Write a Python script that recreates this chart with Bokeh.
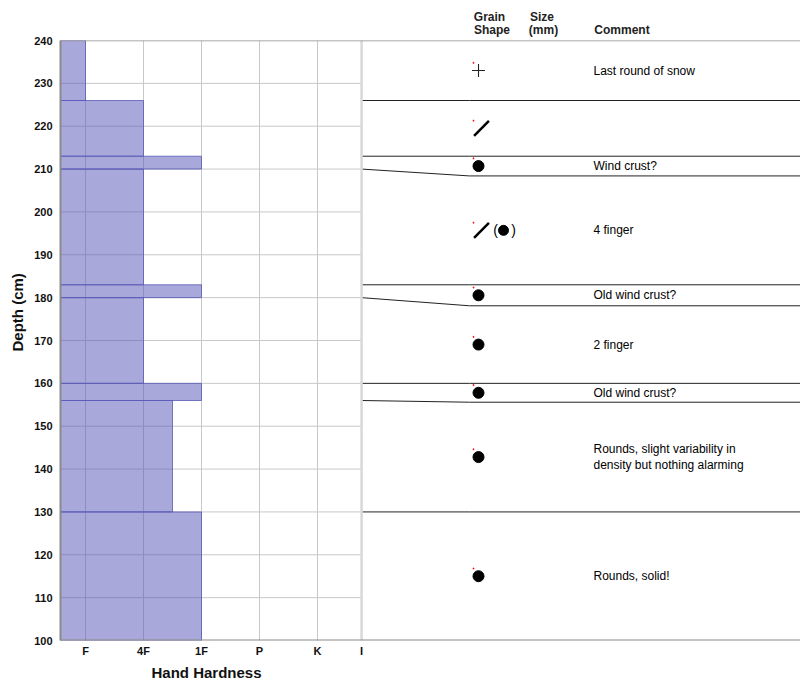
import math

from bokeh.plotting import figure
from bokeh.models import ColumnDataSource, Range1d, FixedTicker, Span, LinearAxis, Title
from bokeh.core.properties import value
from bokeh.embed import file_html
from bokeh.resources import INLINE

# snow layers, top to bottom (cm)
layer_top = [240, 226, 213, 210, 183, 180, 160, 156, 130]
layer_bottom = [226, 213, 210, 183, 180, 160, 156, 130, 100]
# hand hardness index: F=1, 4F=2, 1F=3, P=4, K=5
hardness = [1, 2, 3, 2, 3, 2, 3, 2.5, 3]
# where each layer bottom is drawn in the description column (thin layers widened)
shown_bottom = [226, 213, 208.4, 183, 178.1, 160, 155.6, 130, 100]
grain_shape = ["+", "/", "●", "/(●)", "●", "●", "●", "●", "●"]
comments = [
    "Last round of snow",
    "",
    "Wind crust?",
    "4 finger",
    "Old wind crust?",
    "2 finger",
    "Old wind crust?",
    "Rounds, slight variability in\ndensity but nothing alarming",
    "Rounds, solid!",
]

hardness_labels = ["F", "4F", "1F", "P", "K", "I"]
hardness_ticks = [1, 2, 3, 4, 5, 5.76]
depth_ticks = [100, 110, 120, 130, 140, 150, 160, 170, 180, 190, 200, 210, 220, 230, 240]

# column headers (two rows) and their centres in the description column
header_top = {429: "Grain", 481.5: "Size"}
header_bottom = {431.5: "Shape", 483: "(mm)", 561.5: "Comment"}

FONT_NAME = "Liberation Sans"
FONT = value(FONT_NAME)

# layout of the right-hand column, in pixels from the left of the frame
H_START = 1 - 25 / 58
H_END = H_START + 740 / 58
DIVIDER = 301
SLANT_END = 409
PANEL_END = 740
SYMBOL_X = 418
COMMENT_X = 533

p = figure(frame_width=740, frame_height=600,
           x_range=Range1d(H_START, H_END), y_range=Range1d(100, 240),
           output_backend="svg", toolbar_location=None,
           min_border_left=60, min_border_right=0, min_border_top=40, min_border_bottom=47)
p.extra_x_ranges = {"panel": Range1d(0, PANEL_END)}
p.outline_line_color = None
p.background_fill_color = "white"
xax = p.below[0]
yax = p.left[0]

# grid
p.xgrid.ticker = FixedTicker(ticks=hardness_ticks[:-1])
p.xgrid.grid_line_color = "#c8c8c8"
p.ygrid.grid_line_color = None
p.segment(x0=H_START, x1=hardness_ticks[-1], y0=depth_ticks[1:-1], y1=depth_ticks[1:-1],
          line_color="#c8c8c8", line_width=1)
p.add_layout(Span(location=hardness_ticks[-1], dimension="height",
                  line_color="#d8d8d8", line_width=2.5))

# hardness profile
bars = ColumnDataSource(dict(top=layer_top, bottom=layer_bottom, right=hardness))
p.quad(left=H_START, right="right", top="top", bottom="bottom", source=bars,
       fill_color="#5151b5", fill_alpha=0.5, line_color="#5a5ab8", line_alpha=0.8)

# frame lines
p.add_layout(Span(location=240, dimension="width", line_color="#8a8a8a", line_width=1.5))
p.add_layout(Span(location=100, dimension="width", line_color="#8a8a8a", line_width=2))

# layer boundaries in the description column
xs, ys = [], []
for real, shown in zip(layer_bottom[:-1], shown_bottom[:-1]):
    xs.append([DIVIDER, SLANT_END, PANEL_END])
    ys.append([real, shown, shown])
p.multi_line(xs=xs, ys=ys, x_range_name="panel", line_color="#222222", line_width=1)

shown_top = [240] + shown_bottom[:-1]
centers = [(t + b) / 2 for t, b in zip(shown_top, shown_bottom)]

# grain shape symbols
dots, crosses, slashes, bracketed = [], [], [], []
for shape, c in zip(grain_shape, centers):
    if shape.startswith("●"):
        dots.append(c)
    elif shape.startswith("+"):
        crosses.append(c)
    elif shape.startswith("/"):
        slashes.append(c)
    if "(●)" in shape:
        bracketed.append(c)

p.scatter(x=SYMBOL_X, y=dots, marker="circle", size=11, color="black", x_range_name="panel")
p.scatter(x=SYMBOL_X, y=crosses, marker="cross", size=13, line_color="#222222",
          line_width=1.1, x_range_name="panel")
p.scatter(x=SYMBOL_X + 3, y=slashes, marker="dash", size=21, angle=math.pi / 4,
          line_color="black", line_width=2.5, x_range_name="panel")
p.scatter(x=SYMBOL_X + 25, y=bracketed, marker="circle", size=10, color="black",
          x_range_name="panel")
p.text(x=SYMBOL_X + 17, y=bracketed, text=["("] * len(bracketed), x_range_name="panel",
       text_font=FONT, text_font_size="14px", text_align="center", text_baseline="middle")
p.text(x=SYMBOL_X + 35, y=bracketed, text=[")"] * len(bracketed), x_range_name="panel",
       text_font=FONT, text_font_size="14px", text_align="center", text_baseline="middle")
# empty grain size markers
p.scatter(x=SYMBOL_X - 5, y=[c + 1.8 for c in centers], marker="square", size=1,
          color="red", alpha=0.7, x_range_name="panel")

# comments
p.text(x=COMMENT_X, y=centers, text=comments, x_range_name="panel",
       text_font=FONT, text_font_size="12px", text_color="black",
       text_align="left", text_baseline="middle", text_line_height=1.1)


def style_axis(ax, size="11px"):
    ax.major_tick_out = 0
    ax.major_tick_in = 0
    ax.minor_tick_line_color = None
    ax.major_label_text_font = FONT_NAME
    ax.major_label_text_font_size = size
    ax.major_label_text_font_style = "bold"
    ax.major_label_text_color = "#111111"


# column headers as label-only axes above the description column
for row, standoff in [(header_bottom, 4), (header_top, -4)]:
    head = LinearAxis(x_range_name="panel", ticker=FixedTicker(ticks=list(row)),
                      major_label_overrides=row, axis_line_color=None,
                      major_label_standoff=standoff)
    style_axis(head, "12px")
    head.major_label_text_color = "#222222"
    p.add_layout(head, "above")

# depth axis
yax.ticker = FixedTicker(ticks=depth_ticks)
style_axis(yax)
yax.axis_line_color = "#8a8a8a"
yax.axis_line_width = 2
yax.major_label_standoff = 8

# hardness axis
xax.ticker = FixedTicker(ticks=hardness_ticks)
xax.major_label_overrides = {t: lab for t, lab in zip(hardness_ticks, hardness_labels)}
style_axis(xax)
xax.axis_line_color = None
xax.major_label_standoff = 4

# axis titles, placed under / beside the hardness part only
p.add_layout(Title(text="Hand Hardness", align="left", offset=91, standoff=4,
                   text_font=FONT_NAME, text_font_size="15px", text_font_style="bold",
                   text_color="#111111"), "below")
p.add_layout(Title(text="Depth (cm)", align="left", offset=289, standoff=12,
                   text_font=FONT_NAME, text_font_size="15px", text_font_style="bold",
                   text_color="#111111"), "left")

open("out.html", "w").write(file_html(p, INLINE))
